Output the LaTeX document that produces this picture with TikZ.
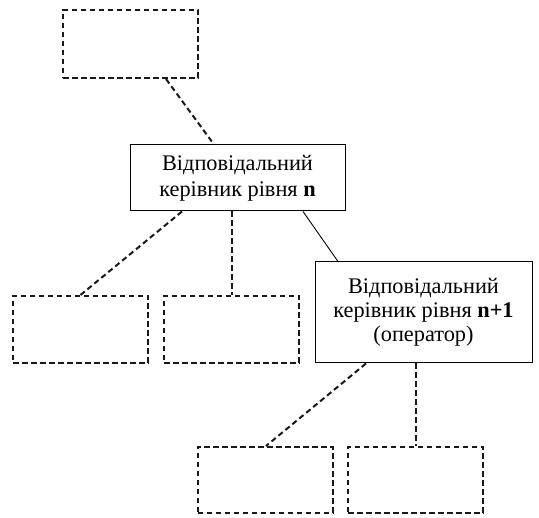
\documentclass[tikz,border=0pt]{standalone}
\usepackage{fontspec}
\setmainfont{Liberation Serif}
\begin{document}
\begin{tikzpicture}[x=1pt,y=-1pt,
  dbox/.style={draw=black!90,line width=2pt,dash pattern=on 5.5pt off 3.5pt,minimum width=135pt,minimum height=67pt,inner sep=0pt},
  sbox/.style={draw=black,line width=1pt,inner sep=0pt,align=center,font=\fontsize{22.3pt}{26.5pt}\selectfont},
  dline/.style={draw=black!90,line width=2pt,dash pattern=on 5.5pt off 3.5pt},
  sline/.style={draw=black,line width=0.9pt}]
\useasboundingbox (0,0) rectangle (539,518);
\node[dbox,minimum height=68pt] (top) at (130.5,44) {};
\node[sbox,minimum width=215pt,minimum height=66pt] (main) at (237.5,178) {Відповідальний\\керівник рівня \textbf{n}};
\node[dbox] (left) at (80.5,329.5) {};
\node[dbox] (mid) at (231.5,329.5) {};
\node[sbox,minimum width=217pt,minimum height=101pt,font=\fontsize{22.3pt}{24pt}\selectfont] (n1) at (423.5,312.5) {Відповідальний\\керівник рівня \textbf{n+1}\\(оператор)};
\node[dbox,minimum height=66pt] (bl) at (265,480) {};
\node[dbox,minimum height=66pt] (br) at (415.5,480) {};
\draw[dline] ([xshift=35.5pt]top.south) -- ([xshift=-23.5pt]main.north);
\draw[dline] ([xshift=-55.5pt]main.south) -- (left.north);
\draw[dline] (main.south -| mid.north) -- (mid.north);
\draw[sline] ([xshift=65.5pt]main.south) -- ([xshift=-85.5pt]n1.north);
\draw[dline] ([xshift=-57.5pt]n1.south) -- ([xshift=1pt]bl.north);
\draw[dline] (n1.south -| br.north) -- (br.north);
\end{tikzpicture}
\end{document}
